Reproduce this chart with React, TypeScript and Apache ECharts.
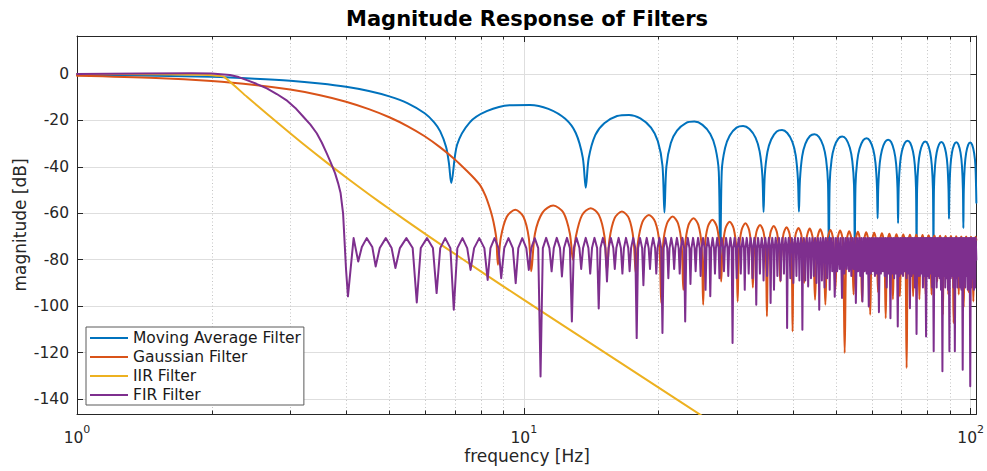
import React, { useEffect, useRef } from "react";
import * as echarts from "echarts";

// ---------- data ----------
const seriesNames = ["Moving Average Filter", "Gaussian Filter", "IIR Filter", "FIR Filter"];
const seriesColors = ["#0072BD", "#D95319", "#EDB120", "#7E2F8E"];
const seriesSmooth = [0.3, 0.3, 0.2, 0];

const X_MIN = 1;
const X_MAX = 103;
const Y_MIN = -146.5;
const Y_MAX = 16.4;
const Y_TICK_STEP = 20;
const minorGridHz = [2, 3, 4, 5, 6, 7, 8, 9, 20, 30, 40, 50, 60, 70, 80, 90];

const movingAveragePoints: [number, number][] = [
  [1.0, -0.3], [1.5, -0.7], [2.0, -1.2], [2.5, -2.0], [3.0, -2.9], [3.5, -4.1], [4.0, -5.5], [4.5, -7.3],
  [5.0, -9.6], [5.5, -12.6], [6.0, -16.9], [6.3, -20.8], [6.5, -24.7], [6.7, -31.4], [6.8, -38.6], [6.88, -47.0],
  [7.09, -30.5], [7.57, -20.8], [8.26, -16.0], [9.29, -13.4], [10.32, -13.3], [11.35, -15.0], [12.38, -19.3], [13.07, -25.4], [13.55, -36.0], [13.76, -49.0],
  [13.97, -36.3], [14.45, -26.3], [15.14, -21.2], [16.17, -18.1], [17.2, -17.6], [18.23, -19.1], [19.26, -23.1], [19.95, -28.9], [20.43, -39.4], [20.64, -59.7],
  [20.85, -39.9], [21.33, -29.7], [22.02, -24.4], [23.05, -21.1], [24.08, -20.5], [25.11, -21.9], [26.14, -25.8], [26.83, -31.7], [27.31, -42.1], [27.52, -85.0],
  [27.73, -42.0], [28.21, -31.9], [28.9, -26.5], [29.93, -23.1], [30.96, -22.4], [31.99, -23.7], [33.02, -27.5], [33.71, -33.3], [34.19, -43.8], [34.4, -59.5],
  [34.61, -43.8], [35.09, -33.6], [35.78, -28.2], [36.81, -24.8], [37.84, -24.1], [38.87, -25.4], [39.9, -29.2], [40.59, -35.0], [41.07, -45.5], [41.28, -59.3],
  [41.49, -45.7], [41.97, -35.5], [42.66, -30.1], [43.69, -26.7], [44.72, -25.9], [45.75, -27.1], [46.78, -30.9], [47.47, -36.7], [47.95, -47.1], [48.16, -78.0],
  [48.37, -47.0], [48.85, -36.8], [49.54, -31.3], [50.57, -27.8], [51.6, -26.9], [52.63, -28.0], [53.66, -31.8], [54.35, -37.5], [54.83, -47.8], [55.04, -76.0],
  [55.25, -47.9], [55.73, -37.6], [56.42, -32.1], [57.45, -28.6], [58.48, -27.7], [59.51, -28.8], [60.54, -32.5], [61.23, -38.2], [61.71, -48.5], [61.92, -62.1],
  [62.13, -48.6], [62.61, -38.3], [63.3, -32.8], [64.33, -29.3], [65.36, -28.3], [66.39, -29.3], [67.42, -33.1], [68.11, -38.7], [68.59, -49.0], [68.8, -64.3],
  [69.01, -49.0], [69.49, -38.8], [70.18, -33.2], [71.21, -29.7], [72.24, -28.7], [73.27, -29.7], [74.3, -33.4], [74.99, -39.0], [75.47, -49.4], [75.68, -78.0],
  [75.89, -49.5], [76.37, -39.2], [77.06, -33.6], [78.09, -30.1], [79.12, -29.1], [80.15, -30.1], [81.18, -33.8], [81.87, -39.4], [82.35, -49.7], [82.56, -76.0],
  [82.77, -49.7], [83.25, -39.4], [83.94, -33.8], [84.97, -30.3], [86.0, -29.3], [87.03, -30.3], [88.06, -33.9], [88.75, -39.5], [89.23, -49.9], [89.44, -62.4],
  [89.65, -49.8], [90.13, -39.5], [90.82, -33.9], [91.85, -30.4], [92.88, -29.4], [93.91, -30.4], [94.94, -34.0], [95.63, -39.6], [96.11, -50.0], [96.32, -66.4],
  [96.53, -50.0], [97.01, -39.7], [97.7, -34.1], [98.73, -30.5], [99.76, -29.5], [100.79, -30.5], [101.82, -34.1], [102.51, -39.7], [103.0, -55.5],
];

const gaussianPoints: [number, number][] = [
  [1.0, -0.75], [1.5, -1.7], [2.0, -3.0], [2.5, -4.7], [3.0, -6.7], [3.5, -9.1], [4.0, -11.9], [4.5, -15.1],
  [5.0, -18.6], [5.5, -22.5], [6.0, -26.8], [6.5, -31.6], [7.0, -36.7], [7.5, -42.2], [7.75, -45.0], [8.0, -48.2],
  [8.2, -52.3], [8.37, -57.1], [8.5, -61.5], [8.6, -66.0], [8.68, -71.0], [8.75, -82.2],
  [8.88, -70.6], [9.16, -61.5], [9.57, -58.5], [9.98, -61.5], [10.26, -70.6], [10.39, -85.0],
  [10.59, -68.8], [11.01, -59.7], [11.64, -56.7], [12.26, -59.7], [12.68, -68.8], [12.88, -80.0],
  [13.08, -69.9], [13.5, -60.8], [14.12, -57.8], [14.73, -60.8], [15.15, -69.9], [15.35, -84.4],
  [15.55, -71.3], [15.96, -62.2], [16.58, -59.2], [17.19, -62.2], [17.6, -71.3], [17.8, -85.7],
  [18.0, -72.8], [18.43, -63.7], [19.05, -60.7], [19.68, -63.7], [20.1, -72.8], [20.3, -98.6],
  [20.5, -73.5], [20.91, -64.4], [21.53, -61.4], [22.14, -64.4], [22.55, -73.5], [22.75, -93.0],
  [22.95, -74.2], [23.36, -65.1], [23.98, -62.1], [24.59, -65.1], [25.0, -74.2], [25.2, -99.4],
  [25.4, -74.9], [25.81, -65.8], [26.43, -62.8], [27.04, -65.8], [27.45, -74.9], [27.65, -89.4],
  [27.85, -75.7], [28.26, -66.6], [28.88, -63.6], [29.49, -66.6], [29.9, -75.7], [30.1, -98.0],
  [30.3, -76.4], [30.71, -67.3], [31.33, -64.3], [31.94, -67.3], [32.35, -76.4], [32.55, -92.0],
  [32.75, -77.1], [33.16, -68.0], [33.78, -65.0], [34.39, -68.0], [34.8, -77.1], [35.0, -104.4],
  [35.2, -77.6], [35.63, -68.5], [36.25, -65.5], [36.88, -68.5], [37.3, -77.6], [37.5, -89.4],
  [37.7, -78.1], [38.11, -69.0], [38.73, -66.0], [39.34, -69.0], [39.75, -78.1], [39.95, -110.9],
  [40.15, -78.4], [40.56, -69.3], [41.18, -66.3], [41.79, -69.3], [42.2, -78.4], [42.4, -90.0],
  [42.89, -71.2], [43.63, -66.6], [44.36, -71.2], [44.85, -97.3],
  [45.34, -71.5], [46.08, -66.9], [46.81, -71.5], [47.3, -99.4],
  [47.8, -71.8], [48.55, -67.2], [49.3, -71.8], [49.8, -93.0],
  [50.29, -72.0], [51.03, -67.4], [51.76, -72.0], [52.25, -120.2],
  [52.74, -72.3], [53.48, -67.7], [54.21, -72.3], [54.7, -95.0],
  [55.19, -72.6], [55.93, -68.0], [56.66, -72.6], [57.15, -98.0],
  [57.64, -72.8], [58.38, -68.2], [59.11, -72.8], [59.6, -103.7],
  [60.09, -73.0], [60.83, -68.4], [61.56, -73.0], [62.05, -94.0],
  [62.55, -73.2], [63.3, -68.6], [64.05, -73.2], [64.55, -105.2],
  [65.04, -73.4], [65.78, -68.8], [66.51, -73.4], [67.0, -97.0],
  [67.49, -73.6], [68.23, -69.0], [68.96, -73.6], [69.45, -95.8],
  [69.94, -73.7], [70.68, -69.1], [71.41, -73.7], [71.9, -126.7],
  [72.39, -73.8], [73.13, -69.2], [73.86, -73.8], [74.35, -95.8],
  [74.84, -73.9], [75.58, -69.3], [76.31, -73.9], [76.8, -97.0],
  [77.3, -74.0], [78.05, -69.4], [78.8, -74.0], [79.3, -95.0],
  [79.79, -74.1], [80.53, -69.5], [81.26, -74.1], [81.75, -95.0],
  [82.24, -74.2], [82.98, -69.6], [83.71, -74.2], [84.2, -89.4],
  [84.69, -74.3], [85.43, -69.7], [86.16, -74.3], [86.65, -103.7],
  [87.14, -74.4], [87.88, -69.8], [88.61, -74.4], [89.1, -95.0],
  [89.6, -74.4], [90.35, -69.8], [91.1, -74.4], [91.6, -107.3],
  [92.09, -74.5], [92.83, -69.9], [93.56, -74.5], [94.05, -95.0],
  [94.54, -74.6], [95.28, -70.0], [96.01, -74.6], [96.5, -100.5],
  [96.99, -74.6], [97.73, -70.0], [98.46, -74.6], [98.95, -94.0],
  [99.44, -74.7], [100.18, -70.1], [100.91, -74.7], [101.4, -98.0],
  [101.89, -74.7], [102.63, -70.1], [103.0, -71.5],
];

const iirPoints: [number, number][] = [
  [1.0, 0.0], [1.5, -0.05], [1.9, -0.3], [2.05, -0.7], [2.13, -1.1], [2.4, -9.8], [2.66, -17.1], [3.0, -25.5],
  [3.38, -33.6], [3.81, -41.4], [4.3, -49.0], [4.76, -55.2], [5.4, -62.6], [6.06, -69.3], [7.3, -79.8], [9.0, -91.5],
  [11.0, -102.5], [15.28, -120.4], [21.9, -140.0], [30.0, -157.1],
];

const firPoints: [number, number][] = [
  [1.0, 0.0], [1.4, 0.2], [1.8, 0.3], [2.0, 0.2], [2.2, -0.4], [2.3, -1.3], [2.4, -2.6], [2.52, -4.2],
  [2.66, -6.2], [2.8, -8.6], [2.94, -11.2], [3.08, -14.6], [3.21, -18.4], [3.33, -21.8], [3.44, -25.5], [3.53, -29.5],
  [3.62, -34.1], [3.7, -38.3], [3.78, -42.7], [3.84, -47.0], [3.89, -51.3], [3.94, -60.0], [3.97, -72.0], [4.0, -84.0],
  [4.04, -95.8], [4.16, -70.7], [4.26, -80.8], [4.34, -74.5], [4.45, -70.7], [4.58, -74.5], [4.66, -82.9],
  [4.76, -75.0], [4.91, -70.7], [5.06, -75.0], [5.16, -83.6], [5.28, -75.0], [5.46, -70.7], [5.64, -75.0], [5.76, -98.4],
  [5.88, -75.0], [6.07, -70.7], [6.26, -75.0], [6.38, -94.4], [6.5, -75.0], [6.67, -70.7], [6.85, -75.0], [6.97, -101.6],
  [7.1, -75.0], [7.29, -70.7], [7.47, -75.0], [7.6, -84.4], [7.74, -75.0], [7.95, -70.7], [8.16, -75.0], [8.3, -88.7],
  [8.42, -75.0], [8.6, -70.7], [8.78, -75.0], [8.9, -88.0], [9.04, -75.0], [9.24, -70.7], [9.45, -75.0], [9.59, -90.1],
  [9.72, -75.0], [9.92, -70.7], [10.13, -75.0], [10.26, -84.4], [10.39, -75.0], [10.58, -70.7], [10.77, -75.0],
  [10.9, -130.3], [11.03, -75], [11.22, -70.6], [11.41, -75],
  [11.54, -85.0], [11.67, -75], [11.85, -70.6], [12.05, -75],
  [12.17, -87.2], [12.3, -75], [12.49, -70.6], [12.68, -75],
  [12.81, -106.6], [12.94, -75], [13.12, -70.6], [13.32, -75],
  [13.44, -84.0], [13.57, -75], [13.76, -70.6], [13.95, -75],
  [14.08, -86.0], [14.21, -75], [14.39, -70.6], [14.59, -75],
  [14.71, -101.0], [14.84, -75], [15.03, -70.6], [15.22, -75],
  [15.35, -89.4], [15.48, -75], [15.66, -70.6], [15.86, -75],
  [15.98, -84.0], [16.11, -75], [16.3, -70.6], [16.49, -75],
  [16.62, -86.0], [16.75, -75], [16.93, -70.6], [17.13, -75],
  [17.25, -85.0], [17.38, -75], [17.57, -70.6], [17.76, -75],
  [17.89, -113.8], [18.02, -75], [18.2, -70.6], [18.4, -75],
  [18.52, -91.0], [18.65, -75], [18.84, -70.6], [19.03, -75],
  [19.16, -84.0], [19.29, -75], [19.47, -70.6], [19.67, -75],
  [19.79, -86.0], [19.92, -75], [20.11, -70.6], [20.3, -75],
  [20.43, -111.6], [20.56, -75], [20.74, -70.6], [20.94, -75],
  [21.06, -88.0], [21.19, -75], [21.38, -70.6], [21.57, -75],
  [21.7, -84.0], [21.83, -75], [22.01, -70.6], [22.21, -75],
  [22.33, -86.0], [22.46, -75], [22.65, -70.6], [22.84, -75],
  [22.97, -106.6], [23.1, -75], [23.28, -70.6], [23.48, -75],
  [23.6, -90.5], [23.73, -75], [23.92, -70.6], [24.11, -75],
  [24.24, -85.0], [24.37, -75], [24.55, -70.6], [24.75, -75],
  [24.87, -87.0], [25.0, -75], [25.19, -70.6], [25.38, -75],
  [25.51, -93.0], [25.64, -75], [25.82, -70.6], [26.02, -75],
  [26.14, -95.8], [26.27, -75], [26.46, -70.6], [26.65, -75],
  [26.78, -86.0], [26.91, -75], [27.09, -70.6], [27.29, -75],
  [27.41, -88.0], [27.54, -75], [27.73, -70.6], [27.92, -75],
  [28.05, -85.0], [28.18, -75], [28.36, -70.6], [28.56, -75],
  [28.68, -87.0], [28.81, -75], [29.0, -70.6], [29.19, -75],
  [29.32, -115.9], [29.45, -75], [29.63, -70.6], [29.83, -75],
  [29.95, -88.0], [30.08, -75], [30.27, -70.6], [30.46, -75],
  [30.59, -86.0], [30.72, -75], [30.9, -70.6], [31.1, -75],
  [31.22, -93.0], [31.35, -75], [31.54, -70.6], [31.73, -75],
  [31.86, -86.0], [31.99, -75], [32.17, -70.6], [32.37, -75],
  [32.49, -88.0], [32.62, -75], [32.81, -70.6], [33.0, -75],
  [33.13, -99.4], [33.26, -75], [33.44, -70.6], [33.64, -75],
  [33.76, -86.0], [33.89, -75], [34.08, -70.6], [34.27, -75],
  [34.4, -89.0], [34.53, -75], [34.71, -70.6], [34.91, -75],
  [35.03, -87.0], [35.16, -75], [35.35, -70.6], [35.54, -75],
  [35.67, -98.7], [35.8, -75], [35.98, -70.6], [36.18, -75],
  [36.3, -93.0], [36.43, -75], [36.62, -70.6], [36.81, -75],
  [36.94, -87.0], [37.07, -75], [37.25, -70.6], [37.45, -75],
  [37.57, -89.0], [37.7, -75], [37.89, -70.6], [38.08, -75],
  [38.21, -86.0], [38.34, -75], [38.52, -70.6], [38.72, -75],
  [38.84, -109.4], [38.97, -75], [39.16, -70.6], [39.35, -75],
  [39.48, -88.0], [39.61, -75], [39.79, -70.6], [39.99, -75],
  [40.11, -90.0], [40.24, -75], [40.43, -70.6], [40.62, -75],
  [40.75, -87.0], [40.88, -75], [41.06, -70.6], [41.26, -75],
  [41.38, -89.0], [41.51, -75], [41.7, -70.6], [41.89, -75],
  [42.02, -110.2], [42.15, -75], [42.33, -70.6], [42.53, -75],
  [42.65, -89.0], [42.78, -75], [42.97, -70.6], [43.16, -75],
  [43.29, -91.5], [43.42, -75], [43.6, -70.6], [43.8, -75],
  [43.92, -88.0], [44.05, -75], [44.24, -70.6], [44.43, -75],
  [44.56, -87.0], [44.69, -75], [44.87, -70.6], [45.07, -75],
  [45.19, -90.0], [45.32, -75], [45.51, -70.6], [45.7, -75],
  [45.83, -101.6], [45.96, -75], [46.14, -70.6], [46.34, -75],
  [46.46, -89.0], [46.59, -75], [46.78, -70.6], [46.97, -75],
  [47.1, -92.0], [47.23, -75], [47.41, -70.6], [47.61, -75],
  [47.73, -88.0], [47.86, -75], [48.05, -70.6], [48.24, -75],
  [48.37, -93.0], [48.5, -75], [48.68, -70.6], [48.88, -75],
  [49.0, -85.0], [49.32, -70.6], [49.64, -96.0], [49.95, -70.6], [50.27, -85.0], [50.59, -70.6], [50.91, -84.0], [51.22, -70.6],
  [51.54, -96.5], [51.86, -70.6], [52.18, -86.0], [52.49, -70.6], [52.81, -84.0], [53.13, -70.6], [53.45, -85.0], [53.76, -70.6],
  [54.08, -87.0], [54.4, -70.6], [54.72, -84.0], [55.03, -70.6], [55.35, -98.7], [55.67, -70.6], [55.99, -85.0], [56.3, -70.6],
  [56.62, -87.0], [56.94, -70.6], [57.26, -98.0], [57.57, -70.6], [57.89, -85.0], [58.21, -70.6], [58.53, -86.0], [58.84, -70.6],
  [59.16, -100.2], [59.48, -70.6], [59.8, -86.0], [60.11, -70.6], [60.43, -85.0], [60.75, -70.6], [61.07, -87.0], [61.38, -70.6],
  [61.7, -86.0], [62.02, -70.6], [62.34, -102.6], [62.65, -70.6], [62.97, -86.0], [63.29, -70.6], [63.61, -85.0], [63.92, -70.6],
  [64.24, -87.0], [64.56, -70.6], [64.88, -92.0], [65.19, -70.6], [65.51, -86.0], [65.83, -70.6], [66.15, -105.2], [66.46, -70.6],
  [66.78, -86.0], [67.1, -70.6], [67.42, -88.0], [67.73, -70.6], [68.05, -86.0], [68.37, -70.6], [68.69, -108.8], [69.0, -70.6],
  [69.32, -87.0], [69.64, -70.6], [69.96, -86.0], [70.27, -70.6], [70.59, -87.0], [70.91, -70.6], [71.23, -85.0], [71.54, -70.6],
  [71.86, -88.0], [72.18, -70.6], [72.5, -86.0], [72.81, -70.6], [73.13, -100.9], [73.45, -70.6], [73.77, -87.0], [74.08, -70.6],
  [74.4, -86.0], [74.72, -70.6], [75.04, -92.0], [75.35, -70.6], [75.67, -112.0], [75.99, -70.6], [76.31, -87.0], [76.62, -70.6],
  [76.94, -87.0], [77.26, -70.6], [77.58, -86.0], [77.89, -70.6], [78.21, -92.0], [78.53, -70.6], [78.85, -87.0], [79.16, -70.6],
  [79.48, -113.1], [79.8, -70.6], [80.12, -87.0], [80.43, -70.6], [80.75, -88.0], [81.07, -70.6], [81.39, -86.0], [81.7, -70.6],
  [82.02, -92.0], [82.34, -70.6], [82.66, -119.5], [82.97, -70.6], [83.29, -87.0], [83.61, -70.6], [83.93, -92.0], [84.24, -70.6],
  [84.56, -87.0], [84.88, -70.6], [85.2, -88.0], [85.51, -70.6], [85.83, -93.0], [86.15, -70.6], [86.47, -128.1], [86.78, -70.6],
  [87.1, -87.0], [87.42, -70.6], [87.74, -92.0], [88.05, -70.6], [88.37, -88.0], [88.69, -70.6], [89.01, -93.0], [89.32, -70.6],
  [89.64, -119.5], [89.96, -70.6], [90.28, -88.0], [90.59, -70.6], [90.91, -87.0], [91.23, -70.6], [91.55, -92.0], [91.86, -70.6],
  [92.18, -119.5], [92.5, -70.6], [92.82, -88.0], [93.13, -70.6], [93.45, -92.0], [93.77, -70.6], [94.09, -87.0], [94.4, -70.6],
  [94.72, -92.0], [95.04, -70.6], [95.36, -93.0], [95.67, -70.6], [95.99, -127.4], [96.31, -70.6], [96.63, -88.0], [96.94, -70.6],
  [97.26, -92.0], [97.58, -70.6], [97.9, -87.0], [98.21, -70.6], [98.53, -93.0], [98.85, -70.6], [99.17, -92.0], [99.48, -70.6],
  [99.8, -134.5], [100.12, -70.6], [100.44, -92.0], [100.75, -70.6], [101.07, -88.0], [101.39, -70.6], [101.71, -93.0], [102.02, -70.6],
  [102.34, -92.0], [102.66, -70.6], [103.0, -80.0],
];

const seriesData = [movingAveragePoints, gaussianPoints, iirPoints, firPoints];

// ---------- styling ----------
const FONT = '"DejaVu Sans", "Noto Sans", sans-serif';
const TEXT = "#262626";
const AXIS = "#262626";
const GRID_MAJOR = "#dedede";
const GRID_MINOR = "#c4c4c4";

export default function App() {
  const ref = useRef<HTMLDivElement>(null);

  useEffect(() => {
    document.body.style.margin = "0";
    if (!ref.current) return;
    const chart = echarts.init(ref.current, undefined, { renderer: "svg" });

    const xAxisBase = {
      type: "log",
      logBase: 10,
      min: X_MIN,
      max: X_MAX,
      axisLine: { show: true, onZero: false, lineStyle: { color: AXIS, width: 1 } },
      axisTick: { show: true, inside: true, length: 6, lineStyle: { color: AXIS, width: 1 } },
    };
    const yAxisBase = {
      type: "value",
      min: Y_MIN,
      max: Y_MAX,
      minInterval: Y_TICK_STEP,
      maxInterval: Y_TICK_STEP,
      axisLine: { show: true, onZero: false, lineStyle: { color: AXIS, width: 1 } },
      axisTick: { show: true, inside: true, length: 6, lineStyle: { color: AXIS, width: 1 } },
    };

    const option: any = {
      animation: false,
      backgroundColor: "#ffffff",
      grid: { left: 77, right: 10, top: 36, bottom: 57, show: false },
      legend: {
        data: seriesNames,
        orient: "vertical",
        left: 86,
        top: 327,
        padding: [1.5, 3, 0.5, 4],
        itemGap: 0,
        itemWidth: 38,
        itemHeight: 2.2,
        icon: "rect",
        borderColor: "#5a5a5a",
        borderWidth: 1,
        backgroundColor: "#ffffff",
        textStyle: { fontFamily: FONT, fontSize: 15.5, color: "#1a1a1a", lineHeight: 19 },
        selectedMode: false,
      },
      xAxis: [
        {
          ...xAxisBase,
          position: "bottom",
          axisLabel: {
            show: true,
            margin: 10,
            showMaxLabel: false,
            formatter: (v: number) => {
              const e = Math.log10(v);
              const n = Math.round(e);
              if (Math.abs(e - n) > 1e-6) return "";
              return "{b|10}{s|" + n + "}";
            },
            rich: {
              b: { fontFamily: FONT, fontSize: 15.5, color: TEXT, lineHeight: 22, verticalAlign: "bottom" },
              s: { fontFamily: FONT, fontSize: 11, color: TEXT, lineHeight: 11, verticalAlign: "top" },
            },
          },
          splitLine: { show: true, lineStyle: { color: GRID_MAJOR, width: 1 } },
        },
        {
          ...xAxisBase,
          position: "top",
          axisLabel: { show: false },
          splitLine: { show: false },
        },
      ],
      yAxis: [
        {
          ...yAxisBase,
          position: "left",
          axisLabel: {
            show: true,
            margin: 8,
            showMinLabel: false,
            showMaxLabel: false,
            fontFamily: FONT,
            fontSize: 15.5,
            color: TEXT,
            formatter: (v: number) => (Math.abs(v % Y_TICK_STEP) < 1e-6 ? String(v) : ""),
          },
          splitLine: { show: true, lineStyle: { color: GRID_MAJOR, width: 1 } },
        },
        {
          ...yAxisBase,
          position: "right",
          axisLabel: { show: false },
          splitLine: { show: false },
        },
      ],
      series: [
        {
          type: "custom",
          name: "minor-grid",
          silent: true,
          xAxisIndex: 0,
          yAxisIndex: 0,
          z: 1,
          data: minorGridHz.map((f) => [f, Y_MIN]),
          renderItem: (_params: any, api: any) => {
            const f = api.value(0);
            const top = api.coord([f, Y_MAX]);
            const bot = api.coord([f, Y_MIN]);
            const x = Math.round(top[0]) + 0.5;
            return {
              type: "group",
              children: [
                {
                  type: "line",
                  shape: { x1: x, y1: top[1], x2: x, y2: bot[1] },
                  style: { stroke: GRID_MINOR, lineWidth: 1, lineDash: [1, 2.5] },
                },
                {
                  type: "line",
                  shape: { x1: x, y1: top[1], x2: x, y2: top[1] + 3.5 },
                  style: { stroke: AXIS, lineWidth: 1 },
                },
                {
                  type: "line",
                  shape: { x1: x, y1: bot[1], x2: x, y2: bot[1] - 3.5 },
                  style: { stroke: AXIS, lineWidth: 1 },
                },
              ],
            };
          },
        },
        ...seriesNames.map((name, i) => ({
          type: "line",
          name,
          data: seriesData[i],
          xAxisIndex: 0,
          yAxisIndex: 0,
          showSymbol: false,
          symbol: "none",
          smooth: seriesSmooth[i] > 0 ? seriesSmooth[i] : false,
          clip: true,
          z: 2,
          color: seriesColors[i],
          itemStyle: { color: seriesColors[i] },
          lineStyle: { color: seriesColors[i], width: 2, join: "round", cap: "round" },
          emphasis: { disabled: true },
        })),
      ],
      graphic: [
        {
          type: "text",
          x: 527,
          y: 18.5,
          style: {
            text: "Magnitude Response of Filters",
            font: "bold 21px " + FONT,
            fill: "#000000",
            align: "center",
            verticalAlign: "middle",
          },
        },
        {
          type: "text",
          x: 527,
          y: 456,
          style: {
            text: "frequency [Hz]",
            font: "17px " + FONT,
            fill: TEXT,
            align: "center",
            verticalAlign: "middle",
          },
        },
        {
          type: "text",
          x: 19.5,
          y: 225,
          rotation: Math.PI / 2,
          style: {
            text: "magnitude [dB]",
            font: "17px " + FONT,
            fill: TEXT,
            align: "center",
            verticalAlign: "middle",
          },
        },
      ],
    };

    chart.setOption(option);
    return () => chart.dispose();
  }, []);

  return <div ref={ref} style={{ width: 987, height: 471 }} />;
}
